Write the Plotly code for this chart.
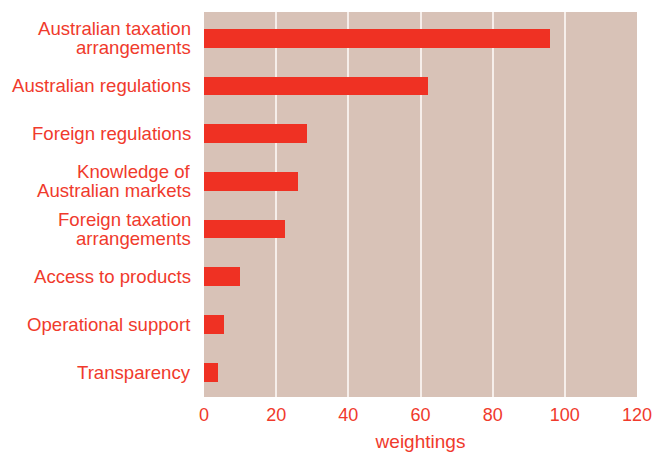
import plotly.graph_objects as go

# Factors and their weightings, top to bottom
factors = [
    "Australian taxation<br>arrangements",
    "Australian regulations",
    "Foreign regulations",
    "Knowledge of<br>Australian markets",
    "Foreign taxation<br>arrangements",
    "Access to products",
    "Operational support",
    "Transparency",
]
weightings = [96, 62, 28.5, 26, 22.5, 10, 5.5, 4]

x_ticks = [0, 20, 40, 60, 80, 100, 120]

RED = "#EF3123"
TEXT_RED = "#F03A2C"
PANEL = "#D8C2B7"
FONT = "Liberation Sans, Arial, sans-serif"
LABEL_SIZE = 18.6
LINE_GAP = 19  # px between lines of a wrapped category label

positions = list(range(len(factors)))

fig = go.Figure(
    go.Bar(
        x=weightings,
        y=positions,
        orientation="h",
        marker=dict(color=RED, line=dict(width=0)),
        width=0.39,
    )
)

# Category labels drawn line by line so wrapped labels keep a tight leading
annotations = []
for pos, label in zip(positions, factors):
    lines = label.split("<br>")
    n = len(lines)
    for i, line in enumerate(lines):
        annotations.append(
            dict(
                text=line,
                xref="paper",
                x=0,
                xanchor="right",
                xshift=-11,
                yref="y",
                y=pos,
                yanchor="middle",
                yshift=((n - 1) / 2 - i) * LINE_GAP,
                showarrow=False,
                font=dict(family=FONT, size=LABEL_SIZE, color=TEXT_RED),
            )
        )

fig.update_layout(
    width=657,
    height=452,
    margin=dict(l=204, r=20, t=12, b=55),
    paper_bgcolor="white",
    plot_bgcolor=PANEL,
    showlegend=False,
    font=dict(family=FONT, size=18, color=TEXT_RED),
    bargap=0,
    annotations=annotations,
)

fig.update_xaxes(
    range=[0, 120],
    tickvals=x_ticks,
    ticktext=[str(v) for v in x_ticks],
    showgrid=True,
    gridcolor="#F6EEEA",
    gridwidth=1.5,
    zeroline=False,
    showline=False,
    ticks="",
    ticklabelstandoff=5,
    automargin=False,
    tickfont=dict(size=18, color=TEXT_RED),
    title=dict(text="weightings", font=dict(size=19, color=TEXT_RED), standoff=12),
)

fig.update_yaxes(
    range=[7.52, -0.55],
    tickvals=positions,
    showticklabels=False,
    showgrid=False,
    zeroline=False,
    showline=False,
    ticks="",
    automargin=False,
)

fig.write_html("out.html")
